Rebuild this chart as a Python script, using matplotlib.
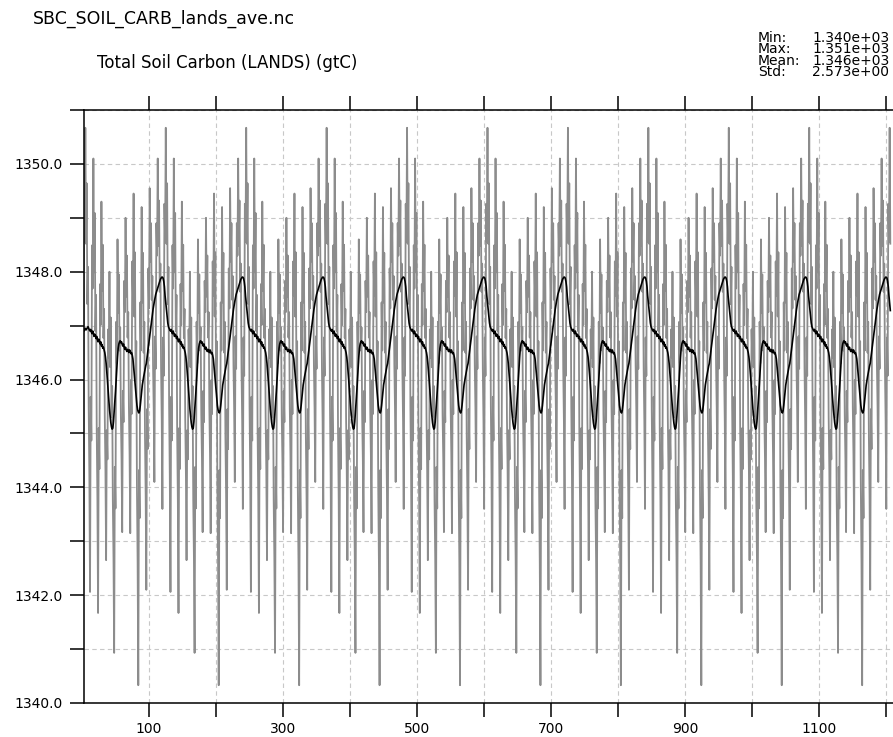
import numpy as np
import matplotlib
matplotlib.use("Agg")
import matplotlib.pyplot as plt
from matplotlib.ticker import MultipleLocator, FuncFormatter

# monthly total soil carbon (gtC); the spin-up repeats a 10-year forcing,
# so one 120-month cycle is read off the plot (row = one year, Jan..Dec)
soil_c_cycle = [
    1343.60, 1346.78, 1346.07, 1349.26, 1348.55, 1350.67, 1348.52, 1349.64, 1347.40, 1348.09, 1345.50, 1344.21,
    1342.06, 1345.68, 1344.87, 1348.49, 1347.69, 1350.10, 1347.99, 1349.09, 1346.90, 1347.57, 1345.04, 1343.78,
    1341.67, 1345.10, 1344.34, 1347.77, 1347.01, 1349.30, 1347.64, 1348.50, 1346.77, 1347.31, 1345.31, 1344.31,
    1342.65, 1345.06, 1344.52, 1346.93, 1346.40, 1348.00, 1346.23, 1347.15, 1345.31, 1345.88, 1343.76, 1342.70,
    1340.93, 1344.38, 1343.61, 1347.07, 1346.30, 1348.60, 1347.24, 1347.95, 1346.54, 1346.97, 1345.34, 1344.53,
    1343.17, 1345.79, 1345.21, 1347.83, 1347.25, 1349.00, 1347.54, 1348.30, 1346.78, 1347.25, 1345.49, 1344.61,
    1343.15, 1345.99, 1345.36, 1348.19, 1347.56, 1349.45, 1347.17, 1348.36, 1345.98, 1346.71, 1343.98, 1342.61,
    1340.33, 1344.32, 1343.43, 1347.43, 1346.54, 1349.20, 1347.43, 1348.35, 1346.50, 1347.07, 1344.94, 1343.88,
    1342.10, 1345.45, 1344.71, 1348.06, 1347.32, 1349.55, 1348.19, 1348.90, 1347.48, 1347.92, 1346.28, 1345.46,
    1344.10, 1346.80, 1346.20, 1348.90, 1348.30, 1350.10, 1348.48, 1349.32, 1347.63, 1348.15, 1346.20, 1345.23,
]

# 12-month running mean (black line), same cycle
running_mean_cycle = [
    1347.90, 1347.88, 1347.82, 1347.72, 1347.55, 1347.42, 1347.28, 1347.15, 1347.05, 1346.98, 1346.95, 1346.92,
    1346.90, 1346.93, 1346.88, 1346.85, 1346.90, 1346.86, 1346.80, 1346.84, 1346.82, 1346.76, 1346.80, 1346.74,
    1346.70, 1346.75, 1346.72, 1346.66, 1346.70, 1346.62, 1346.65, 1346.58, 1346.60, 1346.55, 1346.50, 1346.42,
    1346.30, 1346.15, 1345.98, 1345.80, 1345.62, 1345.45, 1345.32, 1345.20, 1345.12, 1345.08, 1345.10, 1345.22,
    1345.40, 1345.58, 1345.78, 1346.00, 1346.22, 1346.42, 1346.58, 1346.66, 1346.70, 1346.72, 1346.68, 1346.70,
    1346.65, 1346.62, 1346.66, 1346.60, 1346.56, 1346.60, 1346.55, 1346.52, 1346.56, 1346.54, 1346.50, 1346.55,
    1346.52, 1346.48, 1346.50, 1346.45, 1346.38, 1346.25, 1346.10, 1345.95, 1345.80, 1345.65, 1345.52, 1345.44,
    1345.40, 1345.38, 1345.42, 1345.52, 1345.65, 1345.78, 1345.90, 1345.98, 1346.05, 1346.12, 1346.18, 1346.25,
    1346.30, 1346.40, 1346.50, 1346.60, 1346.70, 1346.80, 1346.90, 1347.00, 1347.10, 1347.20, 1347.30, 1347.38,
    1347.45, 1347.52, 1347.58, 1347.62, 1347.66, 1347.70, 1347.74, 1347.78, 1347.82, 1347.86, 1347.88, 1347.90,
]
# first months of the run, before the running mean settles
running_mean_start = [1346.90, 1346.92, 1346.90, 1346.93, 1346.95, 1346.92, 1346.94, 1346.96]

n_months = 1206
stats_names = ["Min:", "Max:", "Mean:", "Std:"]
stats_values = ["1.340e+03", "1.351e+03", "1.346e+03", "2.573e+00"]

months = np.arange(1, n_months + 1)
soil_c = np.tile(soil_c_cycle, 11)[months]
run_mean = np.tile(running_mean_cycle, 11)[months]
run_mean[:len(running_mean_start)] = running_mean_start

W, H = 893, 737
fig = plt.figure(figsize=(W / 100, H / 100), dpi=100)
ax = fig.add_axes([84 / W, (H - 703) / H, (W - 84) / W, (703 - 110) / H])

ax.plot(months, soil_c, color="#8c8c8c", lw=1.3, zorder=2)
ax.plot(months, run_mean, color="black", lw=1.2, zorder=3)

ax.set_xlim(3, 1210)
ax.set_ylim(1340, 1351)

ax.xaxis.set_major_locator(MultipleLocator(100))
ax.yaxis.set_major_locator(MultipleLocator(1))
ax.xaxis.set_major_formatter(FuncFormatter(lambda v, p: "%d" % v if int(round(v)) % 200 == 100 else ""))
ax.yaxis.set_major_formatter(FuncFormatter(lambda v, p: "%.1f" % v if int(round(v)) % 2 == 0 else ""))

ax.grid(True, color="#c8c8c8", ls=(0, (4, 3)), lw=0.8)
ax.tick_params(axis="x", which="major", direction="out", length=10, width=1.1,
               top=True, bottom=True, labelsize=10, pad=4)
ax.tick_params(axis="y", which="major", direction="out", length=10, width=1.1,
               left=True, right=False, labelsize=10, pad=5)
for s in ["left", "top", "bottom"]:
    ax.spines[s].set_linewidth(1.1)
ax.spines["right"].set_visible(False)

fig.text(33 / W, 1 - 19 / H, "SBC_SOIL_CARB_lands_ave.nc", fontsize=12.5, va="center", ha="left")
fig.text(97 / W, 1 - 63 / H, "Total Soil Carbon (LANDS) (gtC)", fontsize=12, va="center", ha="left")
fig.text(758 / W, 1 - 31 / H, "\n".join(stats_names), fontsize=10, va="top", ha="left",
         linespacing=0.76)
fig.text(812 / W, 1 - 31 / H, "\n".join(stats_values), fontsize=10, va="top", ha="left",
         linespacing=0.76)

fig.savefig("out.png", dpi=100)
